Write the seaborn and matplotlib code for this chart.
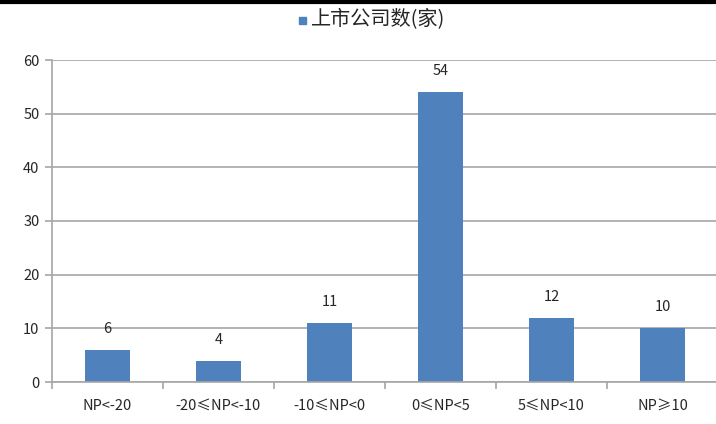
import matplotlib
matplotlib.use("Agg")
import matplotlib.pyplot as plt
from matplotlib.lines import Line2D
from matplotlib.patches import Rectangle
import seaborn as sns
import pandas as pd
import numpy as np

categories = ["NP<-20", "-20≤NP<-10", "-10≤NP<0", "0≤NP<5", "5≤NP<10", "NP≥10"]
counts = [6, 4, 11, 54, 12, 10]
series_name = "上市公司数(家)"
y_ticks = [0, 10, 20, 30, 40, 50, 60]

sns.set_theme(style="white")
plt.rcParams["font.family"] = ["Noto Sans CJK SC", "DejaVu Sans"]

bar_color = "#4F81BD"
grid_color = "#A6A6A6"
text_color = "#262626"

df = pd.DataFrame({"category": categories, "count": counts})

fig = plt.figure(figsize=(7.16, 4.24), dpi=100)
ax = fig.add_axes([52 / 716, 42 / 424, 666 / 716, 322 / 424])

sns.barplot(data=df, x="category", y="count", color=bar_color, width=0.4,
            saturation=1, ax=ax, order=categories, linewidth=0, edgecolor="none")

ax.set_xlim(-0.5, 5.5)
ax.set_ylim(0, 60)
ax.set_yticks(y_ticks)
ax.set_xlabel("")
ax.set_ylabel("")

ax.yaxis.grid(True, color=grid_color, linewidth=1.2)
ax.set_axisbelow(True)
for side in ["top", "right"]:
    ax.spines[side].set_visible(False)
for side in ["left", "bottom"]:
    ax.spines[side].set_color(grid_color)
    ax.spines[side].set_linewidth(1.2)

ax.tick_params(axis="y", which="major", direction="out", length=5, width=1.2,
               color=grid_color, labelsize=10.5, labelcolor=text_color, pad=4, left=True)
ax.tick_params(axis="x", which="major", length=0, labelsize=10.5,
               labelcolor=text_color, pad=12)
ax.set_xticks(np.arange(-0.5, 6.0, 1.0), minor=True)
ax.tick_params(axis="x", which="minor", direction="out", length=5, width=1.2,
               color=grid_color, bottom=True)

for i, v in enumerate(counts):
    ax.annotate(str(v), (i, v), xytext=(0, 10), textcoords="offset points",
                ha="center", va="bottom", fontsize=10.5, color=text_color)

# legend entry across the top
fig.patches.append(Rectangle((299 / 716, (424 - 24) / 424), 7 / 716, 7 / 424,
                             transform=fig.transFigure, color=bar_color, figure=fig))
fig.text(311 / 716, (424 - 20) / 424, series_name, ha="left", va="center",
         fontsize=14.5, color=text_color)

# heavy rule along the top edge
fig.add_artist(Line2D([0, 1], [1 - 1.5 / 424, 1 - 1.5 / 424], transform=fig.transFigure,
                      color="black", linewidth=3))

fig.savefig("out.png", dpi=100)
